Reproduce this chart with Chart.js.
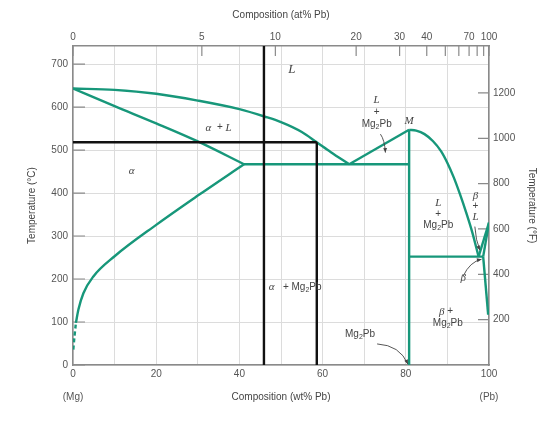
<!DOCTYPE html>
<html>
<head>
<meta charset="utf-8">
<script src="https://cdn.jsdelivr.net/npm/chart.js@4.4.1/dist/chart.umd.min.js"></script>
<style>
  html, body { margin: 0; padding: 0; background: #fff; }
  #wrap { width: 560px; height: 425px; }
</style>
</head>
<body>
<div id="wrap"><canvas id="phase-chart"></canvas></div>
<script>
// *** DATA *** composition in wt% Pb, temperature in degC
var liquidusMg = [[0, 643], [10, 640], [20, 631], [30, 615], [40, 595], [46, 578], [50, 565], [55, 542], [58.6, 518], [62, 495], [66.4, 467]];
var solidusAlpha = [[0, 643], [10, 602], [20, 562], [30, 520], [41.1, 467]];
var solvusAlpha = [[0.7, 98], [1.3, 129], [2.5, 167], [4.9, 206], [10, 253], [20, 326], [30, 394], [41.1, 467]];
var solvusAlphaDashed = [[0.07, 36], [0.35, 66], [0.7, 98]];
var liquidusLeftM = [[66.4, 467], [80.8, 547]];
var liquidusRightM = [[80.8, 547], [82.5, 545], [84.5, 537], [86.5, 521], [88.5, 497], [90, 470], [91.5, 437], [93, 398], [94.5, 355], [96, 308], [97.5, 252]];
var eutecticAlpha = [[41.1, 467], [80.8, 467]];
var compoundMg2Pb = [[80.8, 547], [80.8, 0]];
var eutecticBeta = [[80.8, 252], [98.6, 252]];
var liquidusPb = [[97.5, 252], [100, 331]];
var solidusBeta = [[98.6, 252], [100, 331]];
var solvusBeta = [[98.6, 252], [99.8, 117]];

var isoplethA = [[45.9, 0], [45.9, 742]];
var isoplethB = [[58.6, 0], [58.6, 518]];
var tieLine = [[0, 518], [58.6, 518]];

var tempTicksC = [0, 100, 200, 300, 400, 500, 600, 700];
var tempTicksF = [200, 400, 600, 800, 1000, 1200];
var wtTicks = [0, 10, 20, 30, 40, 50, 60, 70, 80, 90, 100];
var wtLabels = ['0', '', '20', '', '40', '', '60', '', '80', '', '100'];
var atTicks = [0, 5, 10, 20, 30, 40, 50, 60, 70, 80, 90, 100];
var atLabels = ['0', '5', '10', '20', '30', '40', '', '', '70', '', '', '100'];

// region labels: markup, wt% Pb, degC
var phaseLabels = [
    ['I:L', 52.6, 687],
    ['i:L', 73.0, 615], ['+', 73.0, 588], ['Mg|s:2|Pb', 73.0, 560],
    ['i:M', 80.8, 567],
    ['i:\u03b1|  + |i:L', 35.0, 552],
    ['i:\u03b1', 14.1, 450],
    ['i:\u03b1|   + |Mg|s:2|Pb', 53.4, 181],
    ['i:L', 87.8, 376], ['+', 87.8, 351], ['Mg|s:2|Pb', 87.8, 326],
    ['i:\u03b2', 96.75, 392], ['+', 96.75, 370], ['i:L', 96.75, 345],
    ['i:\u03b2', 93.8, 202],
    ['i:\u03b2| +', 89.7, 124], ['Mg|s:2|Pb', 90.1, 98],
    ['Mg|s:2|Pb', 69, 72]
];
// arrows: start, control, end (wt%, degC)
var labelArrows = [
    [73.9, 537, 74.9, 524, 75.1, 494],
    [96.6, 322, 96.8, 290, 97.8, 267],
    [93.8, 207, 95.4, 240, 98.2, 246],
    [73.1, 49, 78.6, 46, 80.5, 2]
];

var GREEN = '#17977a';
var SANS = '"Liberation Sans", Arial, sans-serif';
var SERIF = '"Liberation Serif", "Times New Roman", serif';

// at% -> wt% Pb
function atToWt(at) {
    var pb = at * 207.2, mg = (100 - at) * 24.305;
    return at === 0 ? 0 : 100 * pb / (pb + mg);
}

function toPts(arr) {
    return arr.map(function(p) { return {x: p[0], y: p[1]}; });
}

function greenLine(arr, curved, dashed) {
    return {
        data: toPts(arr),
        showLine: true,
        borderColor: GREEN,
        borderWidth: 2.4,
        pointRadius: 0,
        fill: false,
        tension: curved ? 0.4 : 0,
        cubicInterpolationMode: curved ? 'monotone' : 'default',
        borderDash: dashed ? [4, 3] : [],
        order: 1
    };
}

function blackLine(arr) {
    return {
        data: toPts(arr),
        showLine: true,
        borderColor: '#111',
        borderWidth: 2.4,
        pointRadius: 0,
        fill: false,
        tension: 0,
        order: 0
    };
}

function drawRich(ctx, markup, cx, cy) {
    var parts = markup.split('|').map(function(seg) {
        if (seg.indexOf('I:') === 0) return {t: seg.slice(2), font: 'italic 13px ' + SERIF, dy: 0};
        if (seg.indexOf('i:') === 0) return {t: seg.slice(2), font: 'italic 11px ' + SERIF, dy: 0};
        if (seg.indexOf('s:') === 0) return {t: seg.slice(2), font: '7px ' + SANS, dy: 3};
        return {t: seg, font: '10px ' + SANS, dy: 0};
    });
    var total = 0;
    parts.forEach(function(p) { ctx.font = p.font; p.w = ctx.measureText(p.t).width; total += p.w; });
    var x = cx - total / 2;
    parts.forEach(function(p) { ctx.font = p.font; ctx.fillText(p.t, x, cy + p.dy); x += p.w; });
}

var extrasPlugin = {
    id: 'extras',
    beforeDatasetsDraw: function(chart) {
        var ctx = chart.ctx, a = chart.chartArea, s = chart.scales;
        ctx.save();
        ctx.strokeStyle = '#8a8a8a';
        ctx.lineWidth = 1.2;
        ctx.beginPath();
        tempTicksC.forEach(function(v) {
            var py = s.y.getPixelForValue(v);
            ctx.moveTo(a.left, py); ctx.lineTo(a.left + 12, py);
        });
        tempTicksF.forEach(function(v) {
            var py = s.y2.getPixelForValue(v);
            ctx.moveTo(a.right - 11, py); ctx.lineTo(a.right, py);
        });
        atTicks.forEach(function(v) {
            var px = s.x2.getPixelForValue(atToWt(v));
            ctx.moveTo(px, a.top); ctx.lineTo(px, a.top + 10);
        });
        ctx.stroke();
        ctx.restore();
    },
    afterDatasetsDraw: function(chart) {
        var ctx = chart.ctx, s = chart.scales;
        ctx.save();
        ctx.fillStyle = '#444';
        ctx.textBaseline = 'middle';
        ctx.textAlign = 'left';
        phaseLabels.forEach(function(l) {
            drawRich(ctx, l[0], s.x.getPixelForValue(l[1]), s.y.getPixelForValue(l[2]));
        });
        // arrows
        ctx.strokeStyle = '#444';
        ctx.lineWidth = 0.9;
        labelArrows.forEach(function(r) {
            var x0 = s.x.getPixelForValue(r[0]), y0 = s.y.getPixelForValue(r[1]);
            var cx = s.x.getPixelForValue(r[2]), cy = s.y.getPixelForValue(r[3]);
            var x1 = s.x.getPixelForValue(r[4]), y1 = s.y.getPixelForValue(r[5]);
            ctx.beginPath();
            ctx.moveTo(x0, y0);
            ctx.quadraticCurveTo(cx, cy, x1, y1);
            ctx.stroke();
            var ang = Math.atan2(y1 - cy, x1 - cx);
            ctx.beginPath();
            ctx.moveTo(x1, y1);
            ctx.lineTo(x1 - 5 * Math.cos(ang - 0.4), y1 - 5 * Math.sin(ang - 0.4));
            ctx.lineTo(x1 - 5 * Math.cos(ang + 0.4), y1 - 5 * Math.sin(ang + 0.4));
            ctx.closePath();
            ctx.fill();
        });
        // (Mg) and (Pb) under the axis ends
        ctx.font = '10px ' + SANS;
        ctx.fillStyle = '#555';
        ctx.textAlign = 'center';
        var ty = s.x.bottom - 28;
        ctx.fillText('(Mg)', s.x.getPixelForValue(0), ty);
        ctx.fillText('(Pb)', s.x.getPixelForValue(100), ty);
        ctx.restore();
    }
};

var axisFont = {family: SANS, size: 10};
var titleFont = {family: SANS, size: 10};

var phaseChart = new Chart(document.getElementById('phase-chart'), {
    type: 'scatter',
    data: {
        datasets: [
            blackLine(isoplethA),
            blackLine(isoplethB),
            blackLine(tieLine),
            greenLine(liquidusMg, true),
            greenLine(solidusAlpha, true),
            greenLine(solvusAlpha, true),
            greenLine(solvusAlphaDashed, true, true),
            greenLine(liquidusLeftM, false),
            greenLine(liquidusRightM, true),
            greenLine(eutecticAlpha, false),
            greenLine(compoundMg2Pb, false),
            greenLine(eutecticBeta, false),
            greenLine(liquidusPb, false),
            greenLine(solidusBeta, false),
            greenLine(solvusBeta, false)
        ]
    },
    options: {
        responsive: true,
        maintainAspectRatio: false,
        animation: false,
        devicePixelRatio: 1,
        layout: {padding: 0},
        plugins: {legend: {display: false}, tooltip: {enabled: false}},
        scales: {
            x: {
                type: 'linear', position: 'bottom', min: 0, max: 100,
                afterBuildTicks: function(scale) { scale.ticks = wtTicks.map(function(v) { return {value: v}; }); },
                afterFit: function(scale) { scale.height = 60; },
                ticks: {
                    autoSkip: false, maxRotation: 0, padding: 3, color: '#555', font: axisFont,
                    callback: function(v, i) { return wtLabels[i]; }
                },
                grid: {color: '#dcdcdc', lineWidth: 1, drawTicks: false},
                border: {color: '#8a8a8a', width: 1.5},
                title: {display: true, text: 'Composition (wt% Pb)', color: '#444', font: titleFont, padding: {top: 0, bottom: 22}}
            },
            x2: {
                type: 'linear', position: 'top', min: 0, max: 100,
                afterBuildTicks: function(scale) { scale.ticks = atTicks.map(function(v) { return {value: atToWt(v)}; }); },
                afterFit: function(scale) { scale.height = 46; },
                ticks: {
                    autoSkip: false, maxRotation: 0, padding: 3, color: '#555', font: axisFont,
                    callback: function(v, i) { return atLabels[i]; }
                },
                grid: {display: false, drawTicks: false},
                border: {color: '#8a8a8a', width: 1.5},
                title: {display: true, text: 'Composition (at% Pb)', color: '#444', font: titleFont, padding: {top: 9, bottom: 0}}
            },
            y: {
                type: 'linear', position: 'left', min: 0, max: 742,
                afterBuildTicks: function(scale) { scale.ticks = tempTicksC.map(function(v) { return {value: v}; }); },
                afterFit: function(scale) { scale.width = 73; },
                ticks: {padding: 5, color: '#555', font: axisFont, callback: function(v) { return String(v); }},
                grid: {color: '#dcdcdc', lineWidth: 1, drawTicks: false},
                border: {color: '#8a8a8a', width: 1.5},
                title: {display: true, text: 'Temperature (\u00b0C)', color: '#444', font: titleFont, padding: {top: 26, bottom: 0}}
            },
            y2: {
                type: 'linear', position: 'right', min: 0, max: 1407,
                afterBuildTicks: function(scale) { scale.ticks = tempTicksF.map(function(v) { return {value: v}; }); },
                afterFit: function(scale) { scale.width = 71; },
                ticks: {padding: 4, color: '#555', font: axisFont, callback: function(v) { return String(v); }},
                grid: {display: false, drawTicks: false},
                border: {color: '#8a8a8a', width: 1.5},
                title: {display: true, text: 'Temperature (\u00b0F)', color: '#444', font: titleFont, padding: {top: 22, bottom: 0}}
            }
        }
    },
    plugins: [extrasPlugin]
});
</script>
</body>
</html>
